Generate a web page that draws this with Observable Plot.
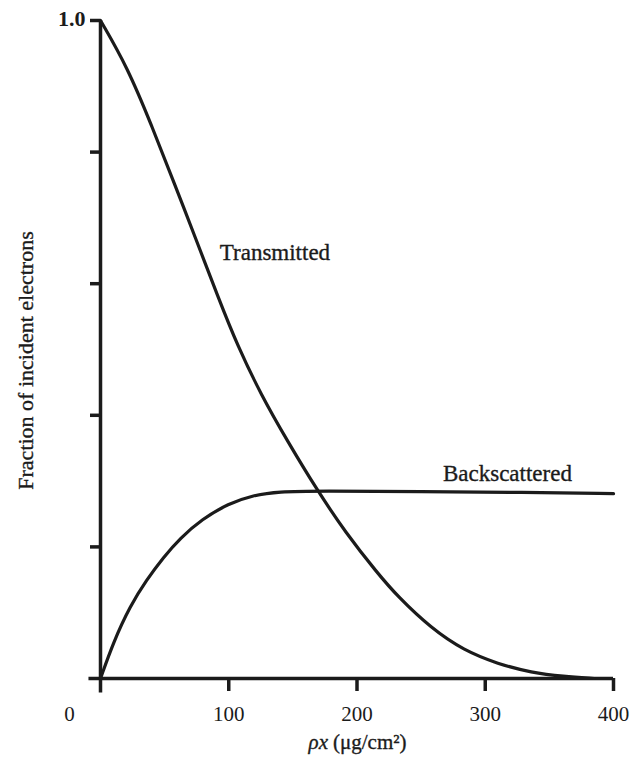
<!DOCTYPE html>
<html>
<head>
<meta charset="utf-8">
<script src="https://cdn.jsdelivr.net/npm/d3@7"></script>
<script src="https://cdn.jsdelivr.net/npm/@observablehq/plot@0.6"></script>
<style>
  html, body { margin: 0; padding: 0; background: #fff; }
  #chart svg { display: block; }
</style>
</head>
<body>
<div id="chart"></div>
<script>
// ---- data ----
const transX = [0, 21, 40, 58, 74, 92, 107, 125, 146, 169, 191, 216, 232, 258, 283, 310, 336, 361, 385];
const transY = [1.0, 0.929, 0.840, 0.750, 0.670, 0.578, 0.505, 0.432, 0.360, 0.286, 0.222, 0.160, 0.124, 0.076, 0.043, 0.022, 0.009, 0.003, 0.0];

const backX = [0, 10, 23, 36, 49, 62, 79, 100, 118, 139, 170, 250, 330, 400];
const backY = [0, 0.055, 0.110, 0.150, 0.184, 0.213, 0.242, 0.266, 0.278, 0.284, 0.285, 0.284, 0.283, 0.281];

const seriesNames = ["Transmitted", "Backscattered"];
const seriesLabelX = [93, 267];
const seriesLabelY = [0.647, 0.312];

const xTicks = [100, 200, 300, 400];
const xOriginLabel = [0];
const yTicks = [0.2, 0.4, 0.6, 0.8, 1.0];
const yTickLabels = [1.0];

const xAxisTitleItalic = "ρx";
const xAxisTitleRest = "(μg/cm²)";
const yAxisTitle = "Fraction of incident electrons";

// ---- tables built from the arrays ----
const transmitted = transX.map((x, i) => ({x, y: transY[i]}));
const backscattered = backX.map((x, i) => ({x, y: backY[i]}));
const seriesLabels = seriesNames.map((name, i) => ({name, x: seriesLabelX[i], y: seriesLabelY[i]}));

const ink = "#1b1b1b";
const font = "'Liberation Serif', 'Times New Roman', serif";
const heavy = {stroke: ink, strokeWidth: 0.35};

const chart = Plot.plot({
  width: 632,
  height: 766,
  marginLeft: 100,
  marginRight: 19,
  marginTop: 20,
  marginBottom: 88,
  style: {fontFamily: font, background: "#fff", color: ink},
  x: {domain: [0, 400]},
  y: {domain: [0, 1]},
  marks: [
    // axis lines
    Plot.ruleY([0], {x1: -9, x2: 400, stroke: ink, strokeWidth: 3.5}),
    Plot.ruleX([0], {y1: -0.022, y2: 1, stroke: ink, strokeWidth: 3.5}),
    // x ticks and labels
    Plot.axisX({ticks: xTicks, tickSize: 13, tickPadding: 15, fontSize: 21, strokeWidth: 3.5, stroke: ink, fill: ink, label: null, tickFormat: d => String(d)}),
    Plot.text(xOriginLabel, {x: d => d, frameAnchor: "bottom", lineAnchor: "top", dy: 28, dx: -31, text: d => String(d), fontSize: 21, fill: ink}),
    // y ticks
    Plot.axisY({ticks: yTicks, tickSize: 10, strokeWidth: 3.5, stroke: ink, label: null, tickFormat: () => ""}),
    Plot.text(yTickLabels, {y: d => d, frameAnchor: "left", textAnchor: "end", dx: -15, dy: -2, text: d => d.toFixed(1), fontSize: 22, fontWeight: "bold", fill: ink}),
    // axis titles
    Plot.text([yAxisTitle], {frameAnchor: "left", textAnchor: "middle", dx: -75, dy: 11, rotate: -90, text: d => d, fontSize: 22, fill: ink, ...heavy}),
    Plot.text([xAxisTitleItalic], {x: () => 200, frameAnchor: "bottom", dy: 70, dx: -29, textAnchor: "end", text: d => d, fontSize: 21, fontStyle: "italic", fill: ink, ...heavy}),
    Plot.text([xAxisTitleRest], {x: () => 200, frameAnchor: "bottom", dy: 70, dx: -24, textAnchor: "start", text: d => d, fontSize: 21, fill: ink, ...heavy}),
    // curves
    Plot.line(transmitted, {x: "x", y: "y", curve: "basis", stroke: ink, strokeWidth: 3.2}),
    Plot.line(backscattered, {x: "x", y: "y", curve: "basis", stroke: ink, strokeWidth: 3.2}),
    // curve labels
    Plot.text(seriesLabels, {x: "x", y: "y", text: "name", textAnchor: "start", fontSize: 23, fill: ink, ...heavy})
  ]
});

document.getElementById("chart").appendChild(chart);
</script>
</body>
</html>
